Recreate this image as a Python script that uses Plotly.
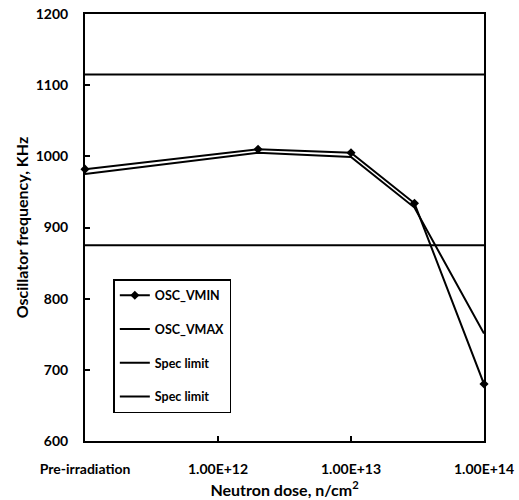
import plotly.graph_objects as go

# Neutron dose (n/cm^2); 1e11 stands in for the pre-irradiation reading
dose = [1e11, 2e12, 1e13, 3e13, 1e14]
osc_vmin = [982, 1010, 1005, 934, 680]
osc_vmax = [975, 1005, 999, 928, 751]
spec_low = 875
spec_high = 1115

tick_vals = [1e11, 1e12, 1e13, 1e14]
tick_text = ["Pre-irradiation", "1.00E+12", "1.00E+13", "1.00E+14"]

FONT = "Lato"

fig = go.Figure()
fig.add_trace(go.Scatter(
    x=dose, y=osc_vmin, name="OSC_VMIN", mode="lines+markers",
    line=dict(color="black", width=2),
    marker=dict(symbol="diamond", size=7, color="black"),
    legendgroup="a", cliponaxis=False,
))
fig.add_trace(go.Scatter(
    x=dose, y=osc_vmax, name="OSC_VMAX", mode="lines",
    line=dict(color="black", width=2),
    legendgroup="b", cliponaxis=False,
))
fig.add_trace(go.Scatter(
    x=[dose[0], dose[-1]], y=[spec_high, spec_high], name="Spec limit",
    mode="lines", line=dict(color="black", width=2),
    legendgroup="c", cliponaxis=False,
))
fig.add_trace(go.Scatter(
    x=[dose[0], dose[-1]], y=[spec_low, spec_low], name="Spec limit",
    mode="lines", line=dict(color="black", width=2),
    legendgroup="d", cliponaxis=False,
))

fig.update_layout(
    width=519, height=500,
    margin=dict(l=85, r=35, t=14, b=59, autoexpand=False),
    paper_bgcolor="white", plot_bgcolor="white",
    font=dict(family=FONT, color="black"),
    showlegend=True,
    legend=dict(
        x=0.071, y=0.379, xanchor="left", yanchor="top",
        bgcolor="white", bordercolor="black", borderwidth=1.5,
        font=dict(family=FONT, size=12.5, color="black", weight="bold"),
        tracegroupgap=14.5, itemwidth=30,
    ),
)
fig.update_xaxes(
    type="log", range=[11, 14], automargin=False,
    tickvals=tick_vals, ticktext=tick_text,
    ticks="inside", ticklen=5, tickwidth=1.5, tickcolor="black",
    ticklabelstandoff=14,
    tickfont=dict(family=FONT, size=14, color="black", weight="bold"),
    showline=True, linecolor="black", linewidth=2, mirror=True,
    showgrid=False, zeroline=False,
    title=dict(text="Neutron dose, n/cm<sup>2</sup>", standoff=9,
               font=dict(family=FONT, size=16, color="black", weight="bold")),
)
fig.update_yaxes(
    range=[600, 1200], dtick=100, automargin=False,
    ticks="inside", ticklen=5, tickwidth=1.5, tickcolor="black",
    ticklabelstandoff=12,
    tickfont=dict(family=FONT, size=14, color="black", weight="bold"),
    showline=True, linecolor="black", linewidth=2, mirror=True,
    showgrid=False, zeroline=False,
    title=dict(text="Oscillator frequency, KHz", standoff=3,
               font=dict(family=FONT, size=16, color="black", weight="bold")),
)

fig.write_html("out.html")
